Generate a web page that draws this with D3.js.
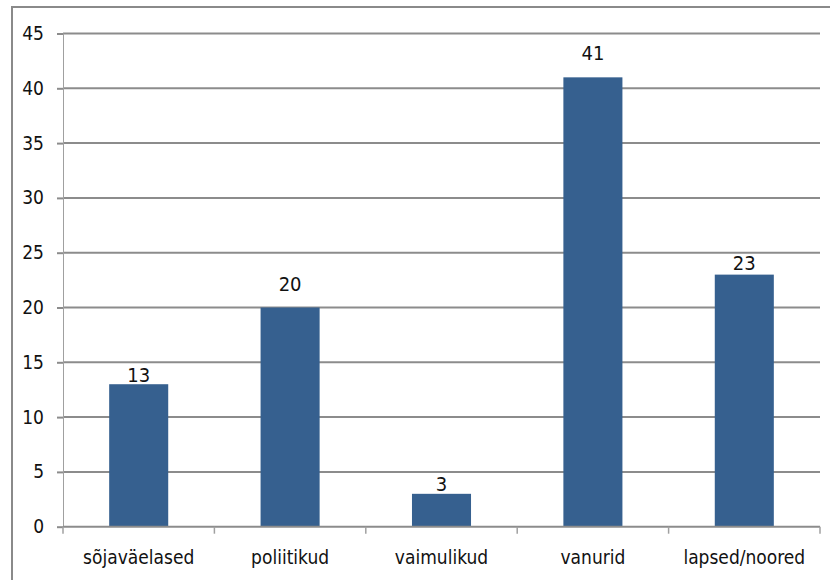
<!DOCTYPE html>
<html>
<head>
<meta charset="utf-8">
<script src="https://cdn.jsdelivr.net/npm/d3@7"></script>
<style>
body { margin: 0; background: #fff; }
text { font-family: "Liberation Sans Narrow", "DejaVu Sans Condensed", "Open Sans", sans-serif; fill: #111; }
</style>
</head>
<body>
<svg width="830" height="580"></svg>
<script>
var categories = ['sõjaväelased', 'poliitikud', 'vaimulikud', 'vanurid', 'lapsed/noored'];
var values = [13, 20, 3, 41, 23];
var yTicks = [0, 5, 10, 15, 20, 25, 30, 35, 40, 45];
// how far each value label sits above its bar
var labelLift = [2, 17, 3, 17, 5];

var svg = d3.select('svg');
var margin = {left: 63, right: 10, top: 33.5, bottom: 53.3};
var width = +svg.attr('width'), height = +svg.attr('height');
var innerwidth = 820 - margin.left;
var innerheight = height - margin.top - margin.bottom;

// outer frame, only top and left edges fall inside the picture
svg.append('path')
	.attr('d', 'M12,590 L12,7 L840,7')
	.attr('fill', 'none')
	.attr('stroke', '#8a8a8a')
	.attr('stroke-width', 2);

var xscale = d3.scaleBand().domain(categories).range([0, innerwidth]).paddingInner(0.61).paddingOuter(0.305);
var xband = d3.scaleBand().domain(categories).range([0, innerwidth]);
var yscale = d3.scaleLinear().domain([0, 45]).range([innerheight, 0]);

var g = svg.append('g').attr('transform', `translate(${margin.left},${margin.top})`);

// gridlines
g.append('g').selectAll('line').data(yTicks.filter(d => d > 0))
	.enter().append('line')
	.attr('x1', 0).attr('x2', innerwidth)
	.attr('y1', d => yscale(d)).attr('y2', d => yscale(d))
	.attr('stroke', '#8c8c8c').attr('stroke-width', 2);

// y axis
var yaxis = g.append('g').call(d3.axisLeft(yscale).tickValues(yTicks).tickSize(6).tickPadding(13));
yaxis.select('.domain').attr('stroke', '#a0a0a0').attr('d', `M0.5,${innerheight}V0`);
yaxis.selectAll('.tick line').attr('stroke', '#8c8c8c').attr('stroke-width', 2);
yaxis.selectAll('text').style('font-size', '19px').attr('fill', '#111');

// bars
g.append('g').selectAll('rect').data(values)
	.enter().append('rect')
	.attr('x', (d, i) => xscale(categories[i]))
	.attr('y', d => yscale(d))
	.attr('width', xscale.bandwidth())
	.attr('height', d => innerheight - yscale(d))
	.attr('fill', '#36608f');

// x axis
var xaxis = g.append('g').attr('transform', `translate(0,${innerheight})`)
	.call(d3.axisBottom(xband).tickSize(0).tickPadding(24));
xaxis.select('.domain').attr('stroke', '#8c8c8c').attr('stroke-width', 2).attr('d', `M0,0H${innerwidth}`);
xaxis.selectAll('text').style('font-size', '19px').attr('fill', '#111');
xaxis.append('g').selectAll('line').data(d3.range(categories.length + 1))
	.enter().append('line')
	.attr('x1', i => i * xband.step()).attr('x2', i => i * xband.step())
	.attr('y1', 0).attr('y2', 7)
	.attr('stroke', '#a0a0a0').attr('stroke-width', 1.5);

// value labels
g.append('g').selectAll('text').data(values)
	.enter().append('text')
	.attr('x', (d, i) => xscale(categories[i]) + xscale.bandwidth() / 2)
	.attr('y', (d, i) => yscale(d) - labelLift[i])
	.attr('text-anchor', 'middle')
	.style('font-size', '20px')
	.text(d => d);
</script>
</body>
</html>
